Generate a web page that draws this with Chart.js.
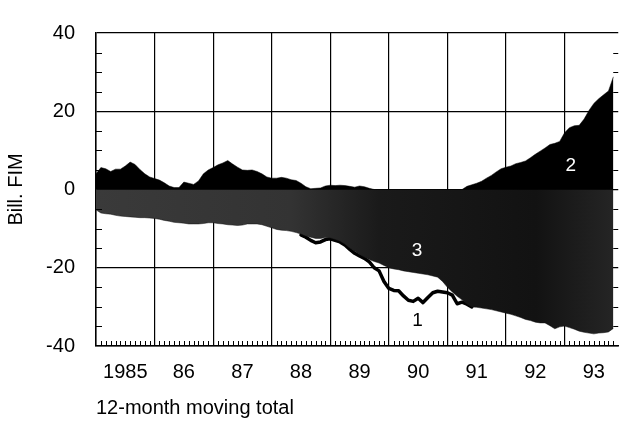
<!DOCTYPE html>
<html>
<head>
<meta charset="utf-8">
<script src="https://cdn.jsdelivr.net/npm/chart.js@4/dist/chart.umd.min.js"></script>
<style>
  html, body { margin: 0; padding: 0; background: #fff; }
  #wrap { width: 619px; height: 421px; }
</style>
</head>
<body>
<div id="wrap"><canvas id="c" width="619" height="421"></canvas></div>
<script>
// Monthly series, January 1985 = month 0 (values in Bill. FIM)
const yearLabels = ['1985', '86', '87', '88', '89', '90', '91', '92', '93'];
const yTicks = [-40, -20, 0, 20, 40];

// Series 2: upper (black) area
const series2 = [
  4.0, 5.6, 5.3, 4.6, 5.2, 5.2, 6.0, 7.0, 6.4, 5.1, 4.0, 3.2,
  2.8, 2.4, 1.7, 0.9, 0.5, 0.5, 1.9, 1.6, 1.3, 2.2, 4.0, 5.0,
  5.6, 6.3, 6.8, 7.4, 6.5, 5.7, 5.0, 4.9, 5.0, 4.6, 4.0, 3.2,
  2.9, 2.9, 3.1, 2.9, 2.5, 2.3, 1.6, 0.7, 0.2, 0.3, 0.4, 0.9,
  1.1, 1.0, 1.1, 1.0, 0.8, 0.6, 0.9, 0.7, 0.3, 0, 0, 0,
  0, 0, 0, 0, 0, 0, 0, 0, 0, 0, 0, 0,
  0, 0, 0, 0, 0.8, 1.2, 1.6, 2.1, 2.9, 3.6, 4.5, 5.3,
  5.7, 6.0, 6.6, 6.9, 7.3, 8.1, 9.0, 9.8, 10.6, 11.5, 11.8, 12.3,
  14.5, 15.8, 16.3, 16.4, 18.0, 20.2, 22.0, 23.2, 24.2, 25.2, 28.8
];

// Series 3: lower (shaded) area
const series3 = [
  -5.2, -6.0, -6.2, -6.3, -6.6, -6.8, -6.9, -7.0, -7.1, -7.2, -7.2, -7.3,
  -7.4, -7.6, -7.9, -8.1, -8.4, -8.5, -8.6, -8.8, -8.8, -8.8, -8.7, -8.5,
  -8.5, -8.7, -8.8, -9.0, -9.1, -9.2, -9.1, -8.8, -8.8, -8.8, -9.0, -9.4,
  -9.8, -10.2, -10.4, -10.5, -10.7, -11.0, -11.4, -11.9, -12.2, -12.5, -12.5, -12.3,
  -12.4, -12.8, -13.2, -14.0, -15.0, -15.8, -16.6, -17.3, -17.9, -18.4, -18.8, -19.4,
  -20.0, -20.3, -20.5, -20.8, -21.0, -21.2, -21.4, -21.6, -21.8, -22.1, -22.4, -23.5,
  -25.0, -26.2, -27.3, -28.2, -29.3, -30.0, -30.1, -30.3, -30.5, -30.7, -31.0, -31.3,
  -31.6, -31.9, -32.3, -32.7, -33.2, -33.5, -33.9, -34.1, -34.1, -34.8, -35.6, -35.1,
  -34.9, -35.3, -35.7, -36.2, -36.5, -36.7, -36.9, -36.7, -36.6, -36.4, -35.5
];

// Series 1: line, shown from month 42 (July 1988) onward where it leaves the shaded area
const series1Start = 42;
const series1 = [
  -11.6, -12.2, -13.0, -13.6, -13.4, -12.8, -12.6, -13.0, -13.4, -14.2, -15.3, -16.3,
  -17.0, -17.6, -18.5, -20.0, -20.8, -23.5, -25.3, -25.8, -25.9, -27.2, -28.3, -28.6,
  -27.8, -28.9, -27.6, -26.4, -26.0, -26.2, -26.4, -27.0, -29.2, -28.8, -29.3, -30.0
];

const toPoints = (arr, start) => arr.map((v, i) => ({ x: start + i, y: v }));
const lastMonth = 107;
const FONT = "'Liberation Sans', Arial, Helvetica, sans-serif";

// Shading for series 3: lighter in the early years, nearly black later
function shade(c) {
  const { chart } = c;
  const { chartArea, scales } = chart;
  if (!chartArea) return '#222';
  const x = scales.x;
  const g = chart.ctx.createLinearGradient(chartArea.left, 0, chartArea.right, 0);
  const w = chartArea.right - chartArea.left;
  const stop = m => Math.min(1, Math.max(0, (x.getPixelForValue(m) - chartArea.left) / w));
  g.addColorStop(0, '#3a3a3a');
  g.addColorStop(stop(40), '#333333');
  g.addColorStop(stop(58), '#1a1a1a');
  g.addColorStop(stop(90), '#121212');
  g.addColorStop(1, '#262626');
  return g;
}

const seriesTags = [
  { text: '1', x: 65.9, y: -33.6, color: '#000' },
  { text: '3', x: 65.8, y: -15.6, color: '#fff' },
  { text: '2', x: 97.3, y: 6.1, color: '#fff' }
];

const axisMarks = {
  id: 'axisMarks',
  afterDraw(chart) {
    const { ctx, chartArea: a, scales: { x, y } } = chart;
    ctx.save();
    ctx.strokeStyle = '#000';
    ctx.lineWidth = 1;
    ctx.beginPath();
    for (let m = 1; m < lastMonth; m++) {
      if (m % 12 === 0) continue;
      const px = Math.round(x.getPixelForValue(m)) + 0.5;
      ctx.moveTo(px, a.bottom);
      ctx.lineTo(px, a.bottom - 5);
    }
    for (let v = -35; v < 40; v += 5) {
      if (v % 20 === 0) continue;
      const py = Math.round(y.getPixelForValue(v)) + 0.5;
      ctx.moveTo(a.left, py);
      ctx.lineTo(a.left + 6, py);
      ctx.moveTo(a.right, py);
      ctx.lineTo(a.right - 5, py);
    }
    ctx.stroke();
    ctx.font = '19px ' + FONT;
    ctx.textAlign = 'center';
    ctx.textBaseline = 'middle';
    seriesTags.forEach(t => {
      ctx.fillStyle = t.color;
      ctx.fillText(t.text, x.getPixelForValue(t.x), y.getPixelForValue(t.y));
    });
    ctx.restore();
  }
};

new Chart(document.getElementById('c'), {
  type: 'line',
  data: {
    datasets: [
      {
        label: '2',
        data: toPoints(series2, 0),
        fill: 'origin',
        backgroundColor: '#000',
        borderColor: '#000',
        borderWidth: 0.5,
        pointRadius: 0,
        tension: 0
      },
      {
        label: '3',
        data: toPoints(series3, 0),
        fill: 'origin',
        backgroundColor: shade,
        borderColor: '#111',
        borderWidth: 0.5,
        pointRadius: 0,
        tension: 0
      },
      {
        label: '1',
        data: toPoints(series1, series1Start),
        fill: false,
        borderColor: '#000',
        borderWidth: 3.5,
        borderJoinStyle: 'round',
        borderCapStyle: 'round',
        pointRadius: 0,
        tension: 0
      }
    ]
  },
  options: {
    responsive: false,
    animation: false,
    devicePixelRatio: 1,
    layout: { padding: { top: 14, left: 0, right: 0, bottom: 0 } },
    plugins: { legend: { display: false }, tooltip: { enabled: false } },
    scales: {
      x: {
        type: 'linear',
        position: 'bottom',
        min: 0,
        max: lastMonth,
        afterBuildTicks: s => { s.ticks = yearLabels.map((_, i) => ({ value: i * 12 })); },
        afterFit: s => { s.height = 0; },
        ticks: { display: false },
        grid: { color: '#000', lineWidth: 1.2, drawTicks: false },
        border: { display: true, color: '#000', width: 1.5 }
      },
      xl: {
        type: 'linear',
        position: 'bottom',
        min: 0,
        max: lastMonth,
        afterBuildTicks: s => { s.ticks = yearLabels.map((_, i) => ({ value: i * 12 + 6 })); },
        afterFit: s => { s.height = 75; },
        ticks: {
          autoSkip: false,
          maxRotation: 0,
          padding: 14,
          color: '#000',
          font: { family: FONT, size: 20, lineHeight: 1.2 },
          callback: (v) => yearLabels[Math.round((v - 6) / 12)]
        },
        grid: { display: false, drawTicks: false },
        border: { display: false },
        title: {
          display: true,
          text: '12-month moving total',
          align: 'start',
          color: '#000',
          font: { family: FONT, size: 20, lineHeight: 1.2 },
          padding: { top: 0, bottom: 1 }
        }
      },
      y: {
        type: 'linear',
        min: -40,
        max: 40,
        afterBuildTicks: s => { s.ticks = yTicks.map(v => ({ value: v })); },
        afterFit: s => { s.width = 96; },
        ticks: {
          padding: 21,
          color: '#000',
          font: { family: FONT, size: 20, lineHeight: 1.2 },
          callback: v => String(v)
        },
        grid: { color: '#000', lineWidth: 1.2, drawTicks: false },
        border: { display: true, color: '#000', width: 1.5 },
        title: {
          display: true,
          text: 'Bill. FIM',
          color: '#000',
          font: { family: FONT, size: 20, lineHeight: 1.2 },
          padding: { top: 4, bottom: 0 }
        }
      }
    }
  },
  plugins: [axisMarks]
});
</script>
</body>
</html>
